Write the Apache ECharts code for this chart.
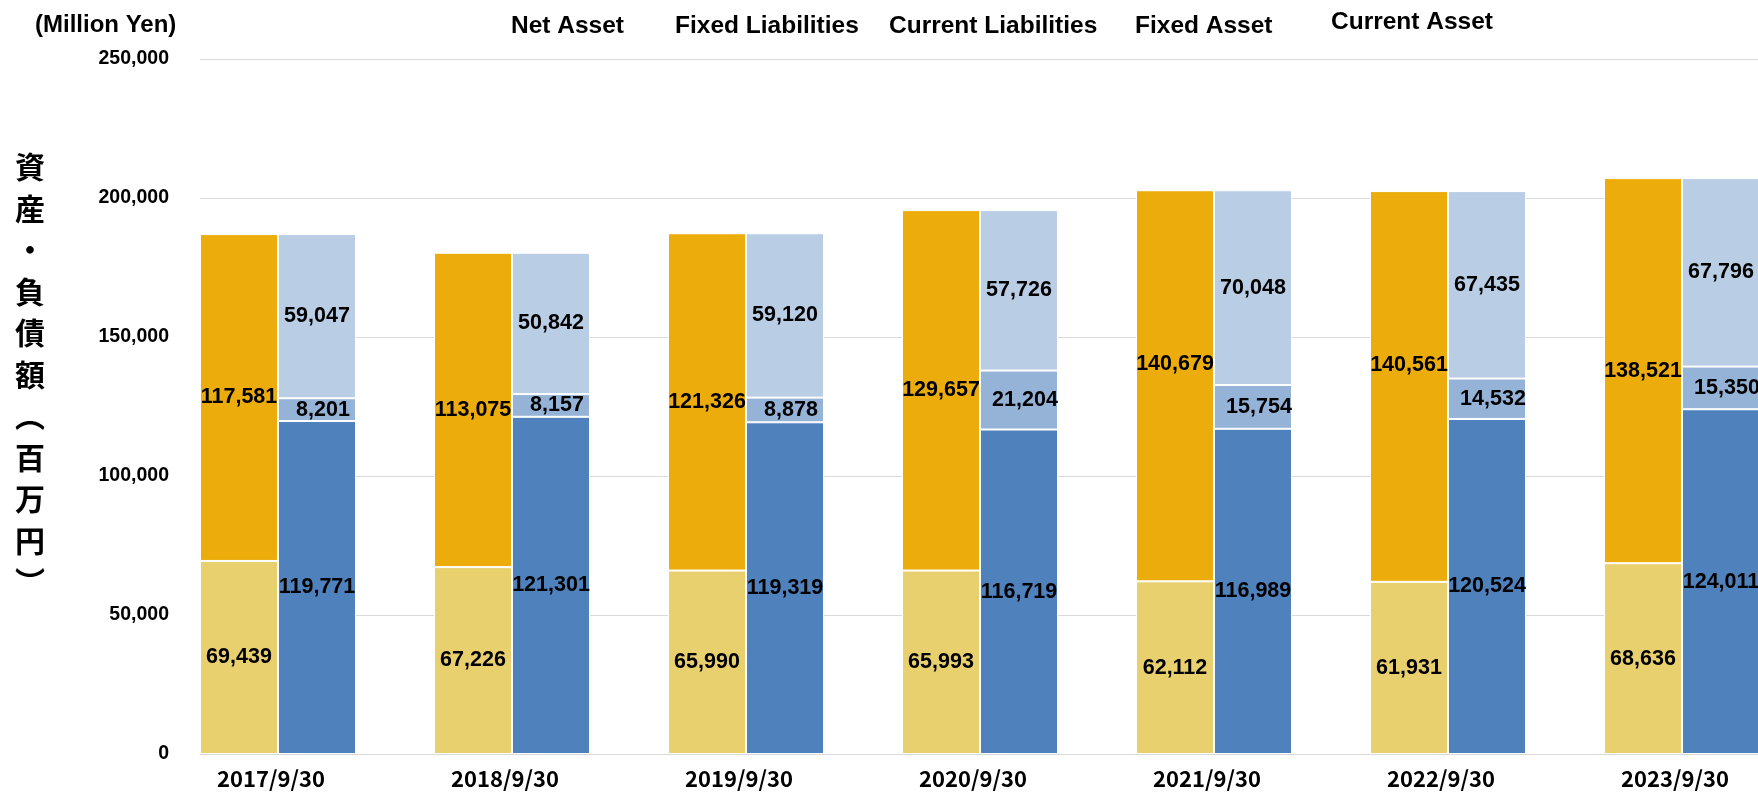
<!DOCTYPE html>
<html>
<head>
<meta charset="utf-8">
<script src="https://cdn.jsdelivr.net/npm/echarts@6/dist/echarts.min.js"></script>
<style>html,body{margin:0;padding:0;background:#fff}#c{width:1758px;height:796px}</style>
</head>
<body>
<div id="c"></div>
<script>
const categories = ['2017/9/30','2018/9/30','2019/9/30','2020/9/30','2021/9/30','2022/9/30','2023/9/30'];
const fixedAsset   = [69439, 67226, 65990, 65993, 62112, 61931, 68636];
const currentAsset = [117581, 113075, 121326, 129657, 140679, 140561, 138521];
const netAsset     = [119771, 121301, 119319, 116719, 116989, 120524, 124011];
const fixedLiab    = [8201, 8157, 8878, 21204, 15754, 14532, 15350];
const currentLiab  = [59047, 50842, 59120, 57726, 70048, 67435, 67796];
const yTicks = [0, 50000, 100000, 150000, 200000, 250000];
const legendNames = ['Net Asset','Fixed Liabilities','Current Liabilities','Fixed Asset','Current Asset'];
const yTitle = ['資','産','・','負','債','額','︵','百','万','円','︶'];

const LABEL_FONT = "'Liberation Sans',sans-serif";
const fmt = v => Number(v).toLocaleString('en-US');
const orangeShift = {4: -22, 5: -21};

function mkSeries(name, data, stack, color, labelOpts, perItem) {
  return {
    name, type: 'bar', stack, xAxisIndex: 0, yAxisIndex: 0,
    barWidth: 78, barGap: '0%',
    itemStyle: {color, borderColor: '#fff', borderWidth: 1},
    label: Object.assign({show: true, position: 'inside', color: '#000', fontFamily: LABEL_FONT,
      fontWeight: 'bold', fontSize: 21.5, formatter: p => fmt(p.value)}, labelOpts || {}),
    data: data.map((v, i) => perItem && perItem(i) ? {value: v, label: perItem(i)} : v),
    z: 3
  };
}

const legendLeft = [500, 664, 878, 1124, 1320];
const legendTop = [9, 9, 9, 9, 5];

const chart = echarts.init(document.getElementById('c'));
chart.setOption({
  animation: false,
  backgroundColor: '#fff',
  title: {text: '(Million Yen)', left: 30, top: 8,
    textStyle: {fontFamily: "'Liberation Sans',sans-serif", fontWeight: 'bold', fontSize: 24, color: '#000'}},
  legend: legendNames.map((n, i) => ({
    data: [n], left: legendLeft[i], top: legendTop[i], itemWidth: 0, itemHeight: 0, selectedMode: false,
    textStyle: {fontFamily: "'Liberation Sans',sans-serif", fontWeight: 'bold', fontSize: 24.5, color: '#000'}
  })),
  graphic: [{
    type: 'text', left: 15, top: 146,
    style: {text: yTitle.join('\n'), fill: '#000', font: "bold 30px 'Noto Sans CJK JP'", lineHeight: 41.5, align: 'center'}
  }],
  grid: [
    {left: 161, width: 1638, top: 59, bottom: 42, outerBoundsMode: 'none', containLabel: false},
    {left: 200, width: 1599, top: 59, bottom: 42, outerBoundsMode: 'none', containLabel: false}
  ],
  xAxis: [
    {type: 'category', gridIndex: 0, data: categories,
      axisLine: {show: false}, axisTick: {show: false},
      axisLabel: {color: '#000', fontFamily: "'Noto Sans CJK JP',sans-serif", fontWeight: 'bold', fontSize: 22, margin: 14, padding: [0, 14, 0, 0]}},
    {type: 'value', gridIndex: 1, min: 0, max: 1,
      axisLine: {show: true, lineStyle: {color: '#D9D9D9', width: 1}}, axisTick: {show: false},
      axisLabel: {show: false}, splitLine: {show: false}}
  ],
  yAxis: [
    {type: 'value', gridIndex: 0, min: yTicks[0], max: yTicks[yTicks.length - 1], interval: yTicks[1] - yTicks[0], show: false},
    {type: 'value', gridIndex: 1, min: yTicks[0], max: yTicks[yTicks.length - 1], interval: yTicks[1] - yTicks[0],
      axisLine: {show: false}, axisTick: {show: false},
      axisLabel: {color: '#000', fontFamily: "'Liberation Sans',sans-serif", fontWeight: 'bold', fontSize: 19.5, margin: 31,
        formatter: v => fmt(v)},
      splitLine: {show: true, lineStyle: {color: '#D9D9D9', width: 1}}}
  ],
  series: [
    mkSeries('Fixed Asset', fixedAsset, 'asset', '#E8D06F'),
    mkSeries('Current Asset', currentAsset, 'asset', '#ECAD0C', null,
      i => orangeShift[i] ? {offset: [0, orangeShift[i]]} : null),
    mkSeries('Net Asset', netAsset, 'liab', '#4F81BD'),
    mkSeries('Fixed Liabilities', fixedLiab, 'liab', '#95B3D7', {offset: [6, 0]}),
    mkSeries('Current Liabilities', currentLiab, 'liab', '#B9CDE5')
  ]
});
</script>
</body>
</html>
